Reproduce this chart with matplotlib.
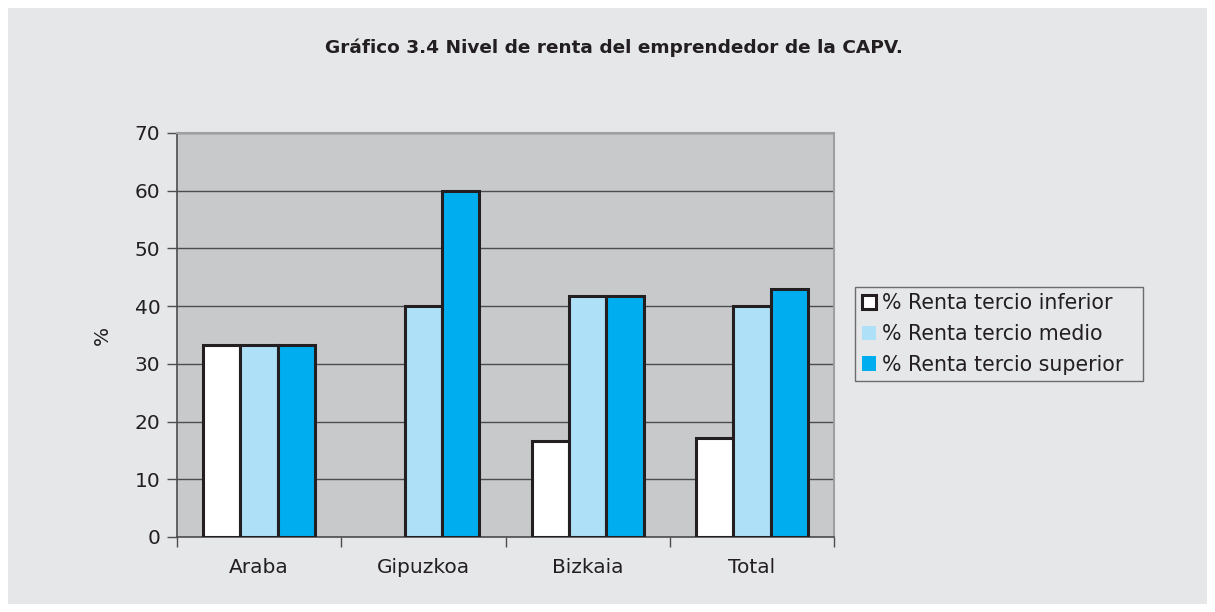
import matplotlib
matplotlib.use("Agg")
import matplotlib.pyplot as plt
import numpy as np
from matplotlib.patches import Rectangle

categories = ["Araba", "Gipuzkoa", "Bizkaia", "Total"]
inferior = [33.3, 0.0, 16.7, 17.1]
medio = [33.3, 40.0, 41.7, 40.0]
superior = [33.3, 60.0, 41.7, 42.9]
series_labels = ["% Renta tercio inferior", "% Renta tercio medio", "% Renta tercio superior"]
colors = ["#ffffff", "#aee0f7", "#00aeef"]
title = "Gráfico 3.4 Nivel de renta del emprendedor de la CAPV."

plt.rcParams["font.family"] = ["DejaVu Sans"]

W, H = 1215, 612
fig = plt.figure(figsize=(W / 100, H / 100), dpi=100)
fig.patch.set_facecolor("white")
fig.patches.append(Rectangle((8 / W, 8 / H), 1 - 16 / W, 1 - 16 / H, transform=fig.transFigure,
                             facecolor="#e6e7e9", edgecolor="none", zorder=-10))

ax = fig.add_axes([177 / W, 1 - 537 / H, (834 - 177) / W, (537 - 133) / H])
ax.set_zorder(1)
ax.set_facecolor("#c8c9cb")

x = np.arange(len(categories))
bw = 0.227
for i, (vals, c, lab) in enumerate(zip([inferior, medio, superior], colors, series_labels)):
    ecs = ["#231f20" if v > 0 else "none" for v in vals]
    ax.bar(x + (i - 1) * bw, vals, width=bw, color=c, edgecolor=ecs, linewidth=2.2,
           label=lab, zorder=3)

ax.set_xlim(-0.5, len(categories) - 0.5)
ax.set_ylim(0, 70)
ax.set_yticks(range(0, 71, 10))
ax.yaxis.grid(True, color="#4d4d4f", linewidth=1.0, zorder=1)
ax.set_axisbelow(True)

ax.set_xticks(x)
ax.set_xticklabels(categories)
ax.set_xticks(np.arange(-0.5, len(categories), 1.0), minor=True)
ax.tick_params(axis="x", which="major", length=0, pad=15, labelsize=14.5, labelcolor="#231f20")
ax.tick_params(axis="x", which="minor", length=7, width=1, color="#4d4d4f", direction="out")
ax.tick_params(axis="y", length=7, width=1, color="#4d4d4f", direction="out", pad=5,
               labelsize=14.5, labelcolor="#231f20")

for side in ["left", "bottom"]:
    ax.spines[side].set_color("#4d4d4f")
    ax.spines[side].set_linewidth(1.2)
for side in ["top", "right"]:
    ax.spines[side].set_color("#9d9fa2")
    ax.spines[side].set_linewidth(1.5)

ax.set_ylabel("%", fontsize=14.5, color="#231f20", labelpad=16)

fig.text(614 / W, 1 - 48 / H, title, ha="center", va="center", fontsize=13.3,
         fontweight="bold", color="#231f20")

leg = ax.legend(loc="upper left", bbox_to_anchor=(855 / W, 1 - 380.5 / H, 288 / W, 94 / H),
                bbox_transform=fig.transFigure, mode="expand",
                frameon=True, fancybox=False, fontsize=14.8, handlelength=0.7, handleheight=0.7,
                handletextpad=0.3, borderpad=0.33, labelspacing=0.52, borderaxespad=0)
leg.get_frame().set_edgecolor("#4d4d4f")
leg.get_frame().set_facecolor("#e6e7e9")
leg.get_frame().set_linewidth(1.0)
handles = leg.legend_handles
handles[0].set_edgecolor("#231f20")
handles[0].set_linewidth(2.2)
for h in handles[1:]:
    h.set_edgecolor("none")
for t in leg.get_texts():
    t.set_color("#231f20")

fig.savefig("out.png", dpi=100)
